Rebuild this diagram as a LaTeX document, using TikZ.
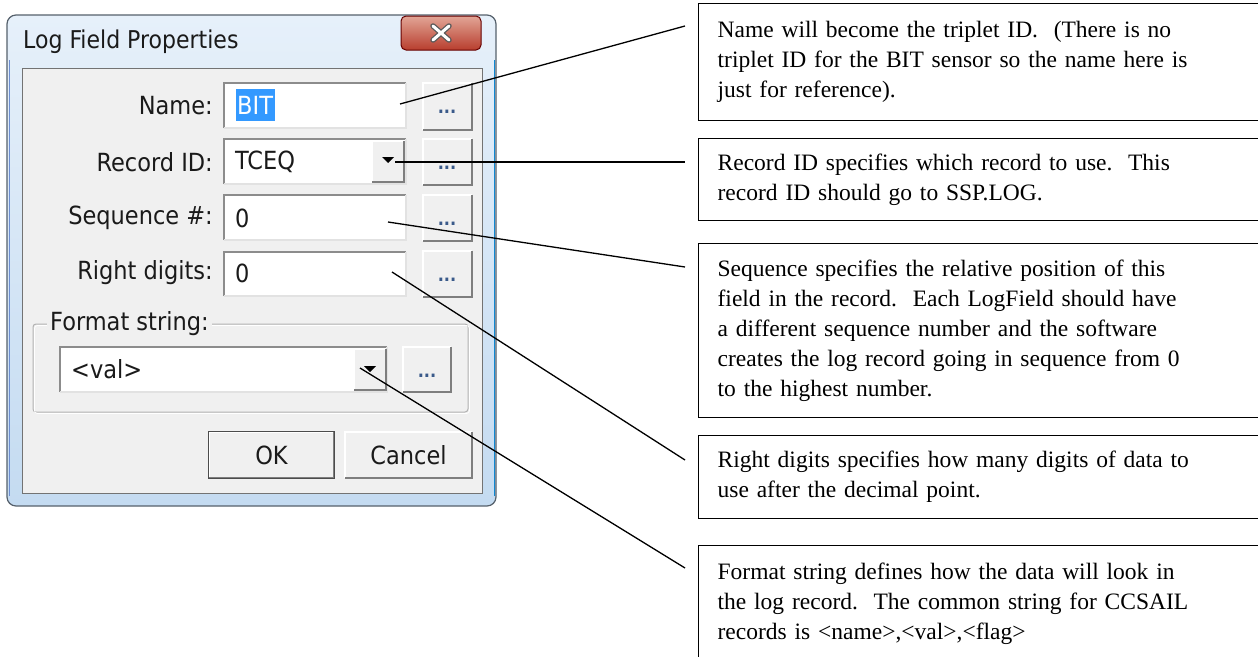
\documentclass[tikz,border=0pt]{standalone}
\usepackage{fontspec}
\setmainfont{Liberation Serif}
\newfontfamily\uifont{DejaVu Sans Condensed}
\usetikzlibrary{fit,calc}

\definecolor{clientbg}{HTML}{F0F0F0}
\definecolor{frametop}{HTML}{E6F0FA}
\definecolor{framebot}{HTML}{C4DBF1}
\definecolor{frameline}{HTML}{56616C}
\definecolor{edgedarkc}{HTML}{8C8C8C}
\definecolor{edgelightc}{HTML}{E2E2E2}
\definecolor{btnshadow}{HTML}{7E7E7E}
\definecolor{closetop}{HTML}{E2A596}
\definecolor{closebot}{HTML}{B83E2E}
\definecolor{selblue}{HTML}{3399FF}
\definecolor{uitext}{HTML}{1A1A1A}
\definecolor{dotcol}{HTML}{3A5A8A}

\tikzset{
  fieldbox/.style={fill=white, inner sep=0pt},
  btnbox/.style={fill=clientbg, inner sep=0pt},
  sunkdark/.style={draw=edgedarkc, line width=1.6pt},
  sunklight/.style={draw=edgelightc, line width=1.6pt},
  raiselight/.style={draw=white, line width=1.6pt},
  raisedark/.style={draw=btnshadow, line width=1.8pt},
  uilabel/.style={font=\uifont\fontsize{25}{29}\selectfont, text=uitext, inner sep=0pt},
  dots/.style={font=\uifont\bfseries\fontsize{18}{22}\selectfont, text=dotcol, inner sep=0pt},
  annot/.style={draw=black, line width=1.3pt, fill=white, anchor=north west,
    inner xsep=19pt, inner ysep=0pt, text width=600pt,
    align=left, font=\fontsize{23.5}{30}\selectfont},
  callout/.style={draw=black, line width=1.3pt},
  arrowtri/.style={fill=black, draw=none}
}

\newcommand\sunkenedges[1]{%
  \draw[sunkdark] (#1.south west) |- (#1.north east);
  \draw[sunklight] (#1.north east) |- (#1.south west);}
\newcommand\raisededges[1]{%
  \draw[raiselight] (#1.south west) |- (#1.north east);
  \draw[raisedark] (#1.north east) |- (#1.south west);}
\newcommand\droptri[2]{%
  \fill[arrowtri] (#1-6,#2-3) -- (#1+6,#2-3) -- (#1,#2+3) -- cycle;}

\begin{document}
\begin{tikzpicture}[x=1pt,y=-1pt]
\useasboundingbox (0,0) rectangle (1258,656);
\clip (0,0) rectangle (1258,656);
\fill[white] (0,0) rectangle (1258,656);

% ---------- dialog window frame ----------
\node (frame) [fit={(7,15)(496,506)}, inner sep=0pt, rounded corners=9pt,
  top color=frametop, bottom color=framebot, draw=frameline, line width=1.2pt] {};
\draw[cyan!70!blue, line width=1pt] (494,60) -- (494,496);
\draw[cyan!40!blue!60, line width=1pt] (9,60) -- (9,496);
\node (title) [uilabel, font=\uifont\fontsize{24.5}{28}\selectfont, anchor=west] at (23,42) {Log Field Properties};

% close button
\node (close) [fit={(401,16)(481,50)}, inner sep=0pt, rounded corners=5pt,
  top color=closetop, bottom color=closebot, draw=black!60!red, line width=1pt] {};
\draw[gray!70!black, line width=5.5pt, line cap=round] ($(close.center)+(-8,-7)$) -- ($(close.center)+(8,7)$)
  ($(close.center)+(8,-7)$) -- ($(close.center)+(-8,7)$);
\draw[white, line width=3pt, line cap=round] ($(close.center)+(-8,-7)$) -- ($(close.center)+(8,7)$)
  ($(close.center)+(8,-7)$) -- ($(close.center)+(-8,7)$);

% client area
\node (client) [fit={(22,68)(482,493)}, inner sep=0pt, fill=clientbg, draw=black!55, line width=1pt] {};

% ---------- field rows ----------
\node (nameLbl) [uilabel, anchor=east] at (213,106) {Name:};
\node (nameBox) [fieldbox, fit={(224,83)(406,128)}] {};
\sunkenedges{nameBox}
\fill[selblue] (236,89) rectangle (275,121);
\node (nameVal) [uilabel, text=white, anchor=west] at (237,105) {BIT};
\node (nameBtn) [btnbox, fit={(423,83)(472,130)}] {};
\raisededges{nameBtn}
\node [dots] at (447,112) {...};

\node (recLbl) [uilabel, anchor=east] at (213,162) {Record ID:};
\node (recBox) [fieldbox, fit={(224,139)(406,184)}] {};
\sunkenedges{recBox}
\node (recVal) [uilabel, anchor=west] at (235,162) {TCEQ};
\node (recDrop) [btnbox, fit={(372,141)(404,182)}] {};
\raisededges{recDrop}
\droptri{388}{160}
\node (recBtn) [btnbox, fit={(423,139)(472,185)}] {};
\raisededges{recBtn}
\node [dots] at (447,168) {...};

\node (seqLbl) [uilabel, anchor=east] at (213,218) {Sequence \#:};
\node (seqBox) [fieldbox, fit={(224,195)(406,240)}] {};
\sunkenedges{seqBox}
\node (seqVal) [uilabel, anchor=west] at (235,218) {0};
\node (seqBtn) [btnbox, fit={(423,195)(472,241)}] {};
\raisededges{seqBtn}
\node [dots] at (447,224) {...};

\node (digLbl) [uilabel, anchor=east] at (213,273) {Right digits:};
\node (digBox) [fieldbox, fit={(224,252)(406,296)}] {};
\sunkenedges{digBox}
\node (digVal) [uilabel, anchor=west] at (235,273) {0};
\node (digBtn) [btnbox, fit={(423,251)(472,297)}] {};
\raisededges{digBtn}
\node [dots] at (447,280) {...};

% format string group
\draw[black!30, line width=1pt, rounded corners=3pt] (33,324) rectangle (468,412);
\draw[white, line width=0.8pt, rounded corners=3pt] (34.5,325.5) rectangle (469.5,413.5);
\node (fmtLbl) [uilabel, anchor=west, fill=clientbg, inner xsep=3pt] at (47,324) {Format string:};
\node (fmtBox) [fieldbox, fit={(60,347)(387,392)}] {};
\sunkenedges{fmtBox}
\node (fmtVal) [uilabel, anchor=west] at (71,369) {<val>};
\node (fmtDrop) [btnbox, fit={(354,349)(386,390)}] {};
\raisededges{fmtDrop}
\droptri{370}{369}
\node (fmtBtn) [btnbox, fit={(403,347)(451,392)}] {};
\raisededges{fmtBtn}
\node [dots] at (427,376) {...};

% OK / Cancel
\node (okBtn) [btnbox, fit={(209,432)(334,478)}] {};
\raisededges{okBtn}
\draw[black!70, line width=1.2pt] (okBtn.north west) rectangle (okBtn.south east);
\node [uilabel] at (okBtn.center) {OK};
\node (cancelBtn) [btnbox, fit={(345,432)(472,478)}] {};
\raisededges{cancelBtn}
\node [uilabel] at (cancelBtn.center) {Cancel};

% ---------- annotation boxes ----------
\frenchspacing
\node (noteName) [annot, minimum height=117pt] at (698,3)
  {Name will become the triplet ID.\ \ (There is no\\
   triplet ID for the BIT sensor so the name here is\\
   just for reference).};
\node (noteRec) [annot, minimum height=82pt] at (698,138)
  {Record ID specifies which record to use.\ \ This\\
   record ID should go to SSP.LOG.};
\node (noteSeq) [annot, minimum height=174pt] at (698,243)
  {Sequence specifies the relative position of this\\
   field in the record.\ \ Each LogField should have\\
   a different sequence number and the software\\
   creates the log record going in sequence from 0\\
   to the highest number.};
\node (noteDig) [annot, minimum height=83pt] at (698,435)
  {Right digits specifies how many digits of data to\\
   use after the decimal point.};
\node (noteFmt) [annot, minimum height=116pt] at (698,545)
  {Format string defines how the data will look in\\
   the log record.\ \ The common string for CCSAIL\\
   records is <name>,<val>,<flag>};

% ---------- callout lines ----------
\coordinate (pName) at (400,104);
\coordinate (pRec) at (395,162);
\coordinate (pSeq) at (388,222);
\coordinate (pDig) at (392,272);
\coordinate (pFmt) at (360,368);
\coordinate (eName) at (685,26);
\coordinate (eRec) at (685,162);
\coordinate (eSeq) at (685,267);
\coordinate (eDig) at (685,460);
\coordinate (eFmt) at (685,568);
\draw[callout] (pName) -- (eName);
\draw[callout] (pRec) -- (eRec);
\draw[callout] (pSeq) -- (eSeq);
\draw[callout] (pDig) -- (eDig);
\draw[callout] (pFmt) -- (eFmt);
\end{tikzpicture}
\end{document}
